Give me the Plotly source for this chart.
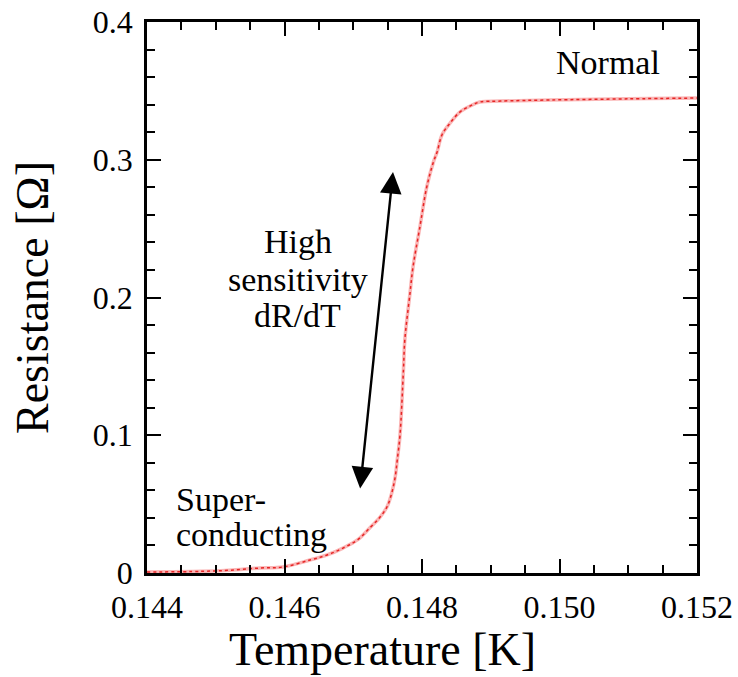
import plotly.graph_objects as go

# temperature [K] and resistance [Ohm]
temperature = [0.1440, 0.1448, 0.1452, 0.14564, 0.14598, 0.14637, 0.14662, 0.14685,
               0.14706, 0.14724, 0.14739, 0.14749, 0.14756, 0.14761, 0.14764,
               0.14768, 0.14773, 0.14775, 0.147825, 0.14787, 0.14797, 0.14807,
               0.14817, 0.14822, 0.14829, 0.14841, 0.14855, 0.14870, 0.14884,
               0.14914, 0.14986, 0.1510, 0.1520]
resistance = [0.0007, 0.0012, 0.0020, 0.0036, 0.0044, 0.0094, 0.0131, 0.0181,
              0.0240, 0.0327, 0.0406, 0.0479, 0.0581, 0.0697, 0.0820,
              0.1000, 0.1474, 0.1691, 0.2030, 0.2224, 0.2514, 0.2804,
              0.2990, 0.3056, 0.3180, 0.3267, 0.3346, 0.3390, 0.3419,
              0.3426, 0.3434, 0.3442, 0.3448]

x_ticks = [0.144, 0.146, 0.148, 0.150, 0.152]
x_labels = ["0.144", "0.146", "0.148", "0.150", "0.152"]
y_ticks = [0, 0.1, 0.2, 0.3, 0.4]
y_labels = ["0", "0.1", "0.2", "0.3", "0.4"]

serif = "Liberation Serif, Times New Roman, serif"

fig = go.Figure()
# pale band underneath, then the dotted data trace on top
fig.add_trace(go.Scatter(
    x=temperature, y=resistance, mode="lines", line_shape="spline",
    line=dict(color="rgba(245,120,120,0.55)", width=3.5),
    showlegend=False, hoverinfo="skip",
))
fig.add_trace(go.Scatter(
    x=temperature, y=resistance, mode="lines", line_shape="spline",
    line=dict(color="rgba(225,0,0,0.8)", width=1.5, dash="dot"),
    showlegend=False,
))

axis_common = dict(
    showline=True, linecolor="black", linewidth=2.5, mirror="allticks",
    ticks="inside", ticklen=14, tickwidth=2, tickcolor="black",
    showgrid=False, zeroline=False, ticklabeloverflow="allow", automargin=False,
    tickfont=dict(family=serif, size=32, color="black"),
)

fig.update_xaxes(
    range=[0.144, 0.152], tickvals=x_ticks, ticktext=x_labels,
    ticklabelstandoff=4,
    minor=dict(dtick=0.0005, ticks="inside", ticklen=8, tickwidth=2, tickcolor="black"),
    **axis_common,
)
fig.update_yaxes(
    range=[0, 0.4], tickvals=y_ticks, ticktext=y_labels,
    ticklabelstandoff=5,
    minor=dict(dtick=0.02, ticks="inside", ticklen=8, tickwidth=2, tickcolor="black"),
    title=dict(text="Resistance [Ω]", font=dict(family=serif, size=46, color="black"), standoff=30),
    **axis_common,
)

# x title sits left of the plot centre in the original, so it is placed by hand
fig.add_annotation(x=0.429, y=0, xref="paper", yref="paper", yanchor="middle", yshift=-76,
                   text="Temperature [K]", showarrow=False,
                   font=dict(family=serif, size=46, color="black"))

text_font = dict(family=serif, size=34, color="black")
fig.add_annotation(x=0.1507, y=0.3705, text="Normal", showarrow=False, font=text_font)
for line, y_pos in [("High", 0.2403), ("sensitivity", 0.2134), ("dR/dT", 0.1866)]:
    fig.add_annotation(x=0.14619, y=y_pos, text=line, showarrow=False, font=text_font)
for line, y_pos in [("Super-", 0.0530), ("conducting", 0.0276)]:
    fig.add_annotation(x=0.14439, y=y_pos, text=line, showarrow=False, font=text_font,
                       xanchor="left")
fig.add_annotation(x=0.147578, y=0.2911, ax=0.147098, ay=0.0603,
                   xref="x", yref="y", axref="x", ayref="y", text="",
                   showarrow=True, arrowhead=2, startarrowhead=2, arrowside="end+start",
                   arrowsize=1.8, startarrowsize=1.8, arrowwidth=2.4, arrowcolor="black")

fig.update_layout(
    width=738, height=677,
    margin=dict(l=147, r=41, t=22, b=104),
    plot_bgcolor="white", paper_bgcolor="white",
)

# drop the default 8px page margin so the figure fills the window exactly
fig.write_html("out.html", config={"displayModeBar": False},
               post_script="document.body.style.margin = '0';")
